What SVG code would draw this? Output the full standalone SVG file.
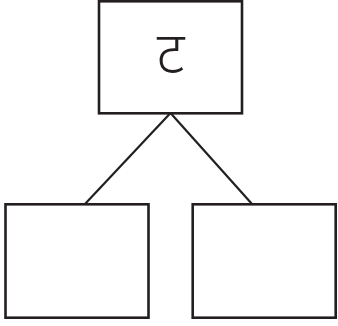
<svg xmlns="http://www.w3.org/2000/svg" width="338" height="326" viewBox="0 0 338 326">
<style>
.box{fill:#fff;stroke:#231f20;stroke-width:2.6}
.edge{stroke:#231f20;stroke-width:2.2;fill:none}
.lbl{font-family:"Noto Sans","DejaVu Sans",sans-serif;font-size:57px;font-weight:300;fill:#231f20;text-anchor:middle}
</style>
<rect width="338" height="326" fill="#fff"/>
<g id="connectors">
<line class="edge" x1="170.5" y1="113" x2="85" y2="204"/>
<line class="edge" x1="170.5" y1="113" x2="252" y2="204"/>
</g>
<g id="root">
<rect class="box" x="99" y="1.3" width="143" height="112"/>
<text class="lbl" x="170.5" y="73">ट</text>
</g>
<g id="left">
<rect class="box" x="5.5" y="204.3" width="143" height="113.4"/>
</g>
<g id="right">
<rect class="box" x="192.7" y="204.3" width="143" height="113.4"/>
</g>
</svg>
